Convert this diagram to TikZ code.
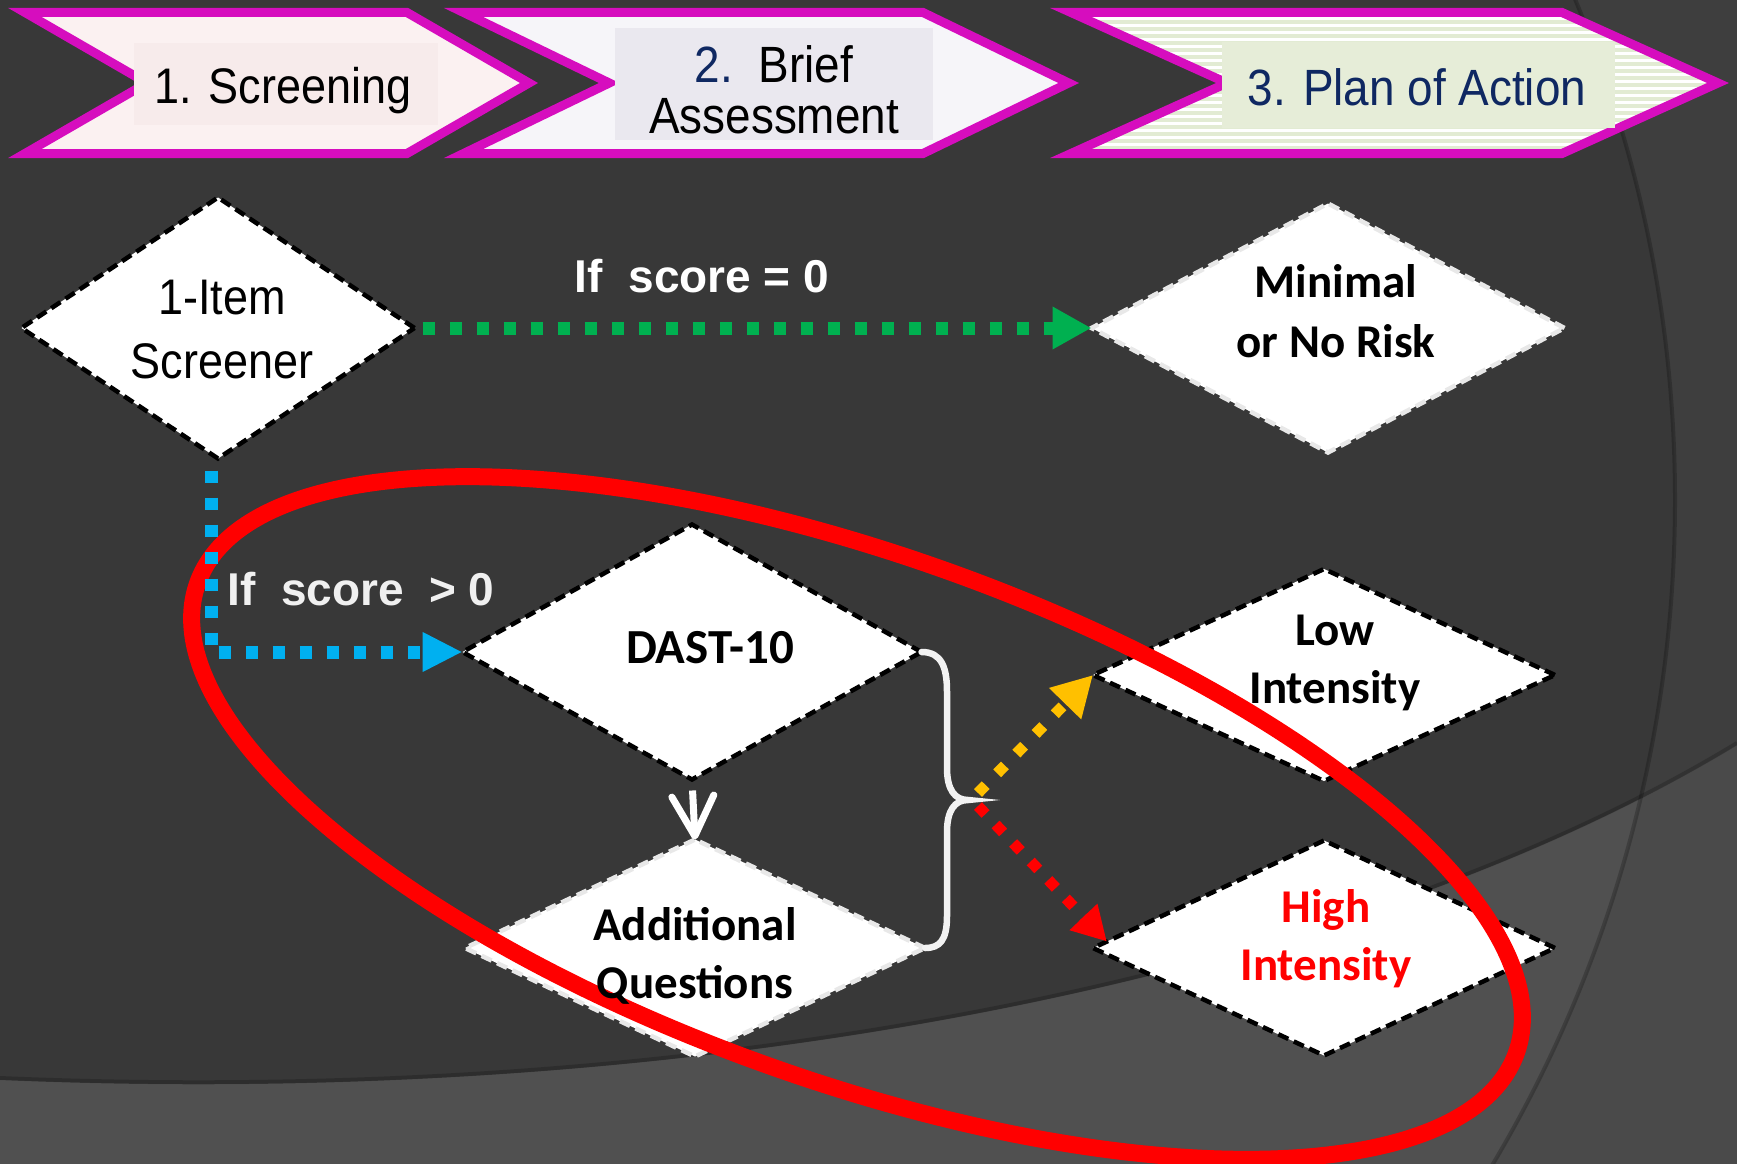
\documentclass[tikz,border=0pt]{standalone}
\usepackage{fontspec}
\usetikzlibrary{shapes.geometric,arrows.meta,calc}
\newfontfamily\narrowf[FakeStretch=0.9]{Liberation Sans}
\newfontfamily\arialf{Liberation Sans}
\newfontfamily\calibf{Carlito}
\definecolor{bgdark}{HTML}{383838}
\definecolor{bgout}{HTML}{3E3E3E}
\definecolor{bglight}{HTML}{505050}
\definecolor{bglighttwo}{HTML}{4A4A4A}
\definecolor{chevmag}{HTML}{D60DBE}
\definecolor{navy}{HTML}{0F2862}
\definecolor{gr}{HTML}{00B050}
\definecolor{bl}{HTML}{00B0F0}
\definecolor{yl}{HTML}{FFC000}
\definecolor{rd}{HTML}{FF0000}
\definecolor{pinkbox}{HTML}{F7EBEB}
\definecolor{lavbox}{HTML}{EAE8EF}
\definecolor{greenbox}{HTML}{E6EDD8}
\definecolor{stripe}{HTML}{E2EBD3}
\definecolor{pinkfill}{HTML}{FBF1F1}
\definecolor{lavfill}{HTML}{F6F5F9}
\definecolor{bracecol}{HTML}{F2F2F2}
\newcommand\lnA{\rule{0pt}{0.5\baselineskip}}
\newcommand\lnB{\rule[-0.5\baselineskip]{0pt}{0.5\baselineskip}}
\begin{document}
\begin{tikzpicture}[x=1pt,y=-1pt,
  chev/.style={draw=chevmag, line width=9pt, line join=miter},
  hbox/.style={rectangle, inner sep=0, outer sep=0, draw=none},
  hdtext/.style={inner sep=0, font=\narrowf\fontsize{50}{60}\selectfont, text=black},
  dia/.style={diamond, fill=white, draw=black, dash pattern=on 11pt off 6pt, line width=4.5pt, inner sep=0, outer sep=0},
  diaw/.style={dia, draw=black!9},
  ctext/.style={inner sep=0, align=center, font=\calibf\bfseries\fontsize{47}{58}\selectfont, text=black},
  lbl/.style={inner sep=0, font=\arialf\bfseries\fontsize{46}{50}\selectfont, text=white},
  gdot/.style={draw=gr, line width=13pt, dash pattern=on 12pt off 15pt, shorten <=8pt, -{Triangle[length=39pt,width=40pt]}},
  bdot/.style={draw=bl, line width=13pt, dash pattern=on 12pt off 15pt, shorten <=12pt, -{Triangle[length=40pt,width=37pt]}},
  ydot/.style={draw=yl, line width=11pt, dash pattern=on 11pt off 16.5pt, -{Triangle[length=40pt,width=42pt]}},
  rdot/.style={draw=rd, line width=11pt, dash pattern=on 11pt off 14.5pt, -{Triangle[length=34pt,width=36pt]}},
  warr/.style={draw=white, line width=7pt, shorten <=11pt, -{Straight Barb[length=40pt,width=42pt,round]}},
  bracest/.style={draw=bracecol, line width=6.5pt, line cap=round}
]
\useasboundingbox (0,0) rectangle (1737,1164);
% background
\fill[bgout] (0,0) rectangle (1737,1164);
\fill[bgdark] (375,500) circle [radius=1300];
\fill[bglighttwo] (0,1080) .. controls (700,1110) and (1350,980) .. (1737,745) -- (1737,1164) -- (0,1164) -- cycle;
\begin{scope}
  \clip (375,500) circle [radius=1300];
  \fill[bglight] (0,1080) .. controls (700,1110) and (1350,980) .. (1737,745) -- (1737,1164) -- (0,1164) -- cycle;
\end{scope}
\draw[black, opacity=0.22, line width=4pt] (375,500) circle [radius=1300];
\draw[black, opacity=0.18, line width=4pt] (0,1078) .. controls (700,1108) and (1350,978) .. (1737,743);

% chevron 1
\fill[pinkfill] (25,12.5) -- (407,12.5) -- (529,83) -- (407,153.5) -- (25,153.5) -- (147,83) -- cycle;
\draw[chev] (25,12.5) -- (407,12.5) -- (529,83) -- (407,153.5) -- (25,153.5) -- (147,83) -- cycle;
% chevron 2
\fill[lavfill] (463.6,12.5) -- (923,12.5) -- (1068.7,83) -- (923,153.5) -- (463.6,153.5) -- (609.3,83) -- cycle;
\draw[chev] (463.6,12.5) -- (923,12.5) -- (1068.7,83) -- (923,153.5) -- (463.6,153.5) -- (609.3,83) -- cycle;
% chevron 3
\begin{scope}
  \clip (1071,12.5) -- (1562,12.5) -- (1718,83) -- (1562,153.5) -- (1071,153.5) -- (1227,83) -- cycle;
  \fill[white] (1040,0) rectangle (1737,170);
  \foreach \yy in {15,22,...,160} \draw[stripe, line width=3.5pt] (1040,\yy) -- (1737,\yy);
\end{scope}
\draw[chev] (1071,12.5) -- (1562,12.5) -- (1718,83) -- (1562,153.5) -- (1071,153.5) -- (1227,83) -- cycle;

% header label boxes
\node[hbox, fill=pinkbox, minimum width=304, minimum height=82] (hb1) at (286,84) {};
\node[hbox, fill=lavbox, minimum width=318, minimum height=112] (hb2) at (773.5,84) {};
\node[hbox, fill=greenbox, minimum width=393, minimum height=86] (hb3) at (1418.5,85) {};
\node[hdtext, anchor=base] (t1) at (283,103) {1. Screening};
\node[hdtext, align=center, font=\narrowf\fontsize{51}{51}\selectfont] (t2) at (774,102.5) {\lnA\textcolor{navy}{2.}\ \ Brief\\Assessment\lnB};
\node[hdtext, anchor=base, text=navy, font=\narrowf\fontsize{51}{60}\selectfont] (t3) at (1417,105) {3. Plan of Action};

% diamonds (shapes)
\node[dia, minimum width=393, minimum height=261] (scr) at (218,328) {};
\node[diaw, minimum width=473, minimum height=249] (mini) at (1328,328) {};
\node[dia, minimum width=459, minimum height=255] (dast) at (692,652) {};
\node[diaw, minimum width=460, minimum height=217] (aq) at (695,948) {};
\node[dia, minimum width=462, minimum height=212] (lo) at (1324,675) {};
\node[dia, minimum width=462, minimum height=215] (hi) at (1324,948) {};

% red ellipse
\draw[rd, line width=17pt, rotate around={-19.6:(857,818)}] (857,818) ellipse [x radius=700, y radius=263];

% connectors
\draw[gdot] (scr.east) -- (mini.west);
\draw[bdot] ([xshift=-7pt]scr.south) |- (dast.west);
\draw[warr] (dast.south) -- (aq.north);
\coordinate (bt) at (968,800);
\draw[bracest] (dast.east) .. controls (942,652) and (947,668) .. (947,692) -- (947,768) .. controls (947,790) and (955,800) .. (bt) .. controls (955,800) and (947,810) .. (947,832) -- (947,916) .. controls (947,940) and (940,948) .. (aq.east);
\coordinate (ys) at (978,793);
\coordinate (rs) at (978,806);
\draw[ydot] (ys) -- (lo.west);
\draw[rdot] (rs) -- ($(hi.west)!0.06!(hi.north)$);

% texts
\node[inner sep=0, align=center, font=\narrowf\fontsize{50}{64}\selectfont] (scrt) at (222,345) {\lnA 1-Item\\Screener\lnB};
\node[ctext, font=\calibf\bfseries\fontsize{47}{60}\selectfont] (minit) at (1336,326) {\lnA Minimal\\or No Risk\lnB};
\node[ctext, anchor=base, font=\calibf\bfseries\fontsize{49}{58}\selectfont] (dastt) at (710,663) {DAST-10};
\node[ctext] (aqt) at (695,967) {\lnA Additional\\Questions\lnB};
\node[ctext] (lot) at (1335,674) {\lnA Low\\Intensity\lnB};
\node[ctext, text=rd] (hit) at (1326,949) {\lnA High\\Intensity\lnB};
\node[lbl, anchor=base] (l0) at (702,292) {If~~score = 0};
\node[lbl, anchor=base, text=black!6] (l1) at (361,605) {If~~score~~> 0};
\end{tikzpicture}
\end{document}
